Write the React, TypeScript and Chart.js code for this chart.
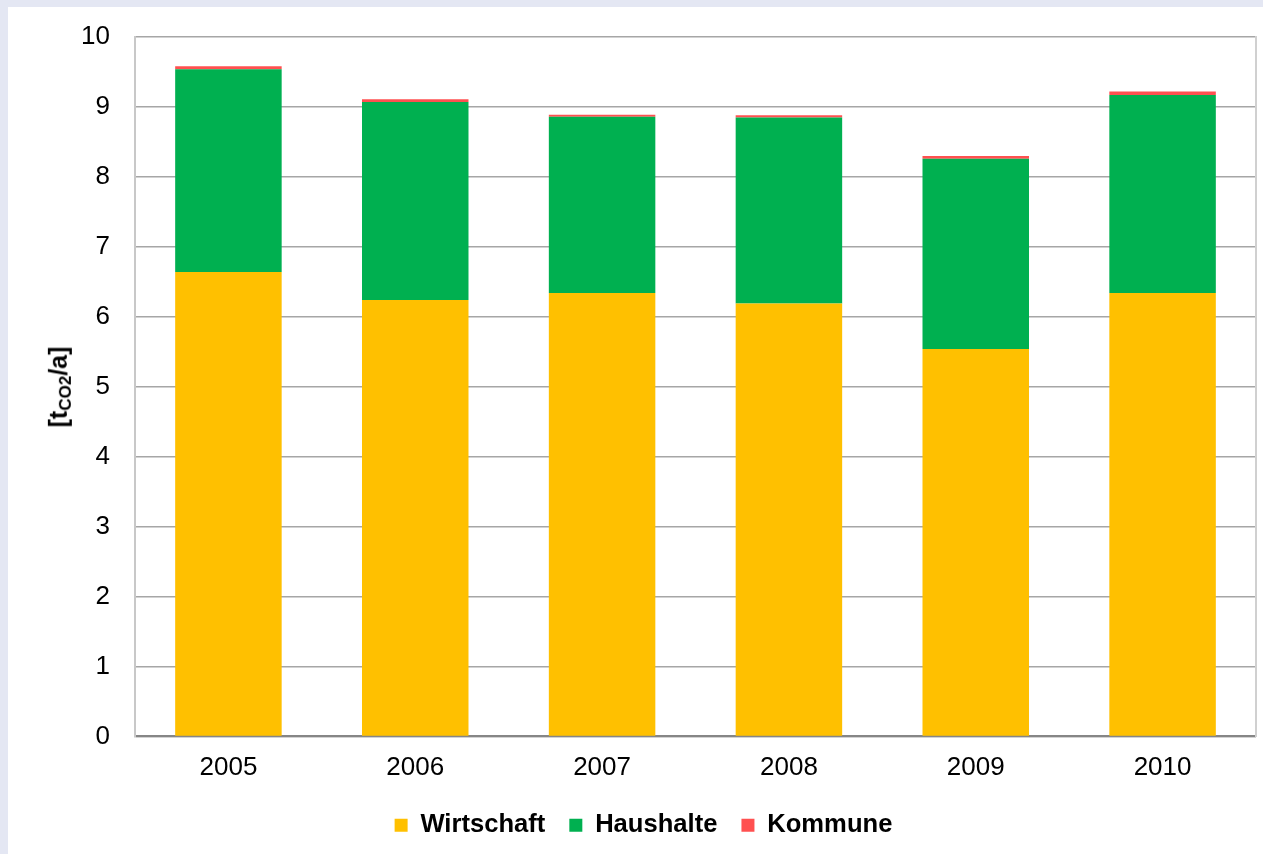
import React, { useEffect, useRef } from "react";
import { Chart, registerables } from "chart.js";

Chart.register(...registerables);

const years = ["2005", "2006", "2007", "2008", "2009", "2010"];
const wirtschaft = [6.64, 6.24, 6.34, 6.19, 5.54, 6.34];
const haushalte = [2.9, 2.83, 2.52, 2.66, 2.72, 2.83];
const kommune = [0.04, 0.04, 0.03, 0.03, 0.04, 0.05];
const yMin = 0;
const yMax = 10;
const yStep = 1;

const FONT = "'Liberation Sans', Arial, sans-serif";

export default function App() {
  const canvasRef = useRef<HTMLCanvasElement | null>(null);

  useEffect(() => {
    if (!canvasRef.current) return;
    const chart = new Chart(canvasRef.current, {
      type: "bar",
      data: {
        labels: years,
        datasets: [
          { label: "Wirtschaft", data: wirtschaft, backgroundColor: "#FFC000", borderWidth: 0 },
          { label: "Haushalte", data: haushalte, backgroundColor: "#00B050", borderWidth: 0 },
          { label: "Kommune", data: kommune, backgroundColor: "#FF5050", borderWidth: 0 },
        ],
      },
      options: {
        responsive: false,
        animation: false,
        layout: { padding: { left: 23, right: 7, top: 30, bottom: 6 } },
        datasets: { bar: { barPercentage: 0.57, categoryPercentage: 1 } },
        plugins: {
          tooltip: { enabled: false },
          legend: {
            position: "bottom",
            labels: {
              boxWidth: 13,
              boxHeight: 13,
              padding: 24,
              color: "#000",
              font: { family: FONT, size: 25.6, weight: "bold" },
            },
          },
        },
        scales: {
          x: {
            stacked: true,
            grid: { display: false, drawTicks: false },
            border: { display: true, color: "#868686", width: 2 },
            ticks: { color: "#000", padding: 16, font: { family: FONT, size: 26 } },
            afterFit: (s: any) => { s.height = 52; },
          },
          y: {
            stacked: true,
            min: yMin,
            max: yMax,
            ticks: { stepSize: yStep, color: "#000", padding: 25, font: { family: FONT, size: 26, lineHeight: 0.3 } },
            grid: { color: "#A6A6A6", lineWidth: 1.5, drawTicks: false },
            border: { display: true, color: "#C8C8C8", width: 2 },
            afterFit: (s: any) => { s.width = 104; },
          },
          y2: {
            position: "right",
            min: yMin,
            max: yMax,
            grid: { display: false, drawTicks: false },
            ticks: { display: false },
            border: { display: true, color: "#D0D0D0", width: 2 },
            afterFit: (s: any) => { s.width = 0; },
          },
        },
      },
    });
    return () => chart.destroy();
  }, []);

  return (
    <div style={{ position: "fixed", inset: 0, background: "#E4E7F3" }}>
      <div style={{ position: "absolute", left: 8, top: 7, width: 1255, height: 847, background: "#fff" }}>
        <canvas ref={canvasRef} width={1255} height={847} style={{ display: "block" }} />
        <div
          style={{
            position: "absolute",
            left: 52,
            top: 380,
            transform: "translate(-50%, -50%) rotate(-90deg)",
            fontFamily: FONT,
            fontWeight: "bold",
            fontSize: 25,
            whiteSpace: "nowrap",
            color: "#000",
            lineHeight: 1,
          }}
        >
          [t<sub style={{ fontSize: 17, verticalAlign: "-0.25em" }}>CO2</sub>/a]
        </div>
      </div>
    </div>
  );
}
